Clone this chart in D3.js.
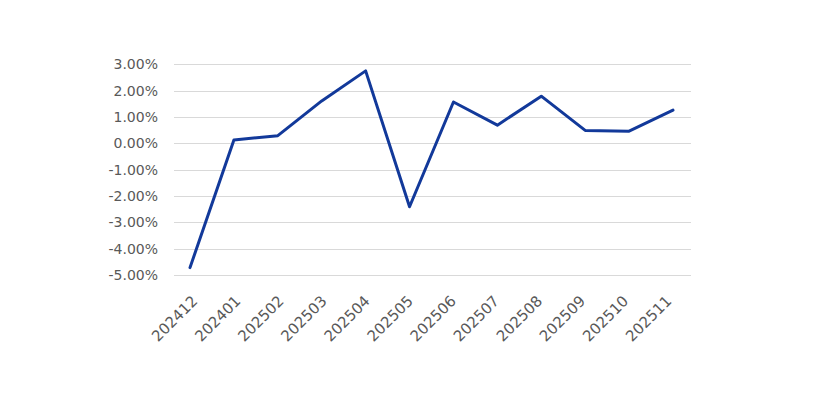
<!DOCTYPE html>
<html>
<head>
<meta charset="utf-8">
<script src="https://cdn.jsdelivr.net/npm/d3@7/dist/d3.min.js"></script>
<style>
  html, body { margin: 0; padding: 0; background: #fff; }
  svg { display: block; }
  text { font-family: "DejaVu Sans", sans-serif; fill: #595959; }
</style>
</head>
<body>
<svg id="chart" width="830" height="410"></svg>
<script>
const categories = ["202412","202401","202502","202503","202504","202505","202506","202507","202508","202509","202510","202511"];
const values = [-4.72, 0.13, 0.29, 1.61, 2.75, -2.41, 1.57, 0.69, 1.79, 0.49, 0.46, 1.26];
const yTicks = [3, 2, 1, 0, -1, -2, -3, -4, -5];

const svg = d3.select("#chart");
const gridLeft = 174, gridRight = 691;

const y = d3.scaleLinear().domain([-5, 3]).range([275, 64.3]);
const xBand = d3.scaleBand().domain(categories).range([gridLeft, gridRight]);
const xLine = d3.scalePoint().domain(categories).range([190, 673]);

const fmt = d => (d < 0 ? "-" : "") + Math.abs(d).toFixed(2) + "%";

// gridlines
svg.append("g").selectAll("line").data(yTicks).join("line")
  .attr("x1", gridLeft).attr("x2", gridRight)
  .attr("y1", d => Math.round(y(d)) + 0.5).attr("y2", d => Math.round(y(d)) + 0.5)
  .attr("stroke", "#d9d9d9").attr("stroke-width", 1);

// y labels
svg.append("g").selectAll("text").data(yTicks).join("text")
  .attr("x", 158).attr("y", d => y(d))
  .attr("dy", "0.36em")
  .attr("text-anchor", "end")
  .style("font-size", "14px")
  .text(fmt);

// x labels
svg.append("g").selectAll("text").data(categories).join("text")
  .attr("text-anchor", "end")
  .attr("transform", d => `translate(${xBand(d) + xBand.bandwidth() / 2 + 3},${302}) rotate(-45)`)
  .style("font-size", "15px")
  .text(d => d);

// line
const line = d3.line().x((d, i) => xLine(categories[i])).y(d => y(d));
svg.append("path").datum(values)
  .attr("d", line)
  .attr("fill", "none")
  .attr("stroke", "#12399a")
  .attr("stroke-width", 3)
  .attr("stroke-linejoin", "round")
  .attr("stroke-linecap", "round");
</script>
</body>
</html>
